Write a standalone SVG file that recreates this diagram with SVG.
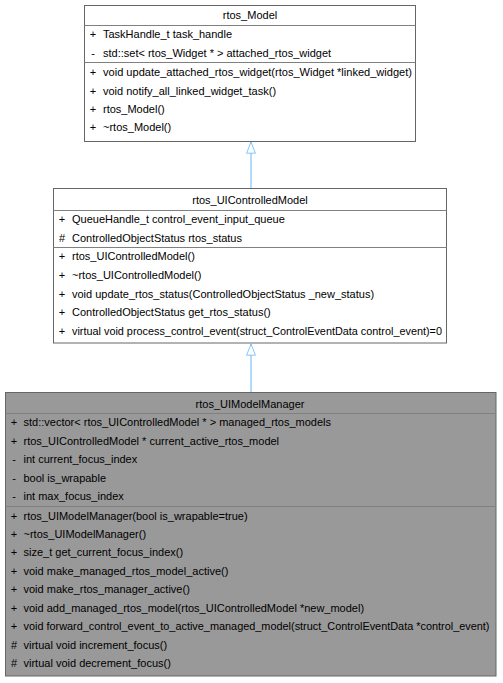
<svg xmlns="http://www.w3.org/2000/svg" width="503" height="683" viewBox="0 0 503 683">
<style>
text{font-family:"Liberation Sans",Arial,sans-serif;font-size:11px;fill:#000}
.t{text-anchor:middle}
.s{text-anchor:middle}
.box{fill:#fff;stroke:#666;stroke-width:1}
.cur{fill:#999;stroke:#666;stroke-width:1}
.sep{stroke:#808080;stroke-width:1}
.edge{fill:none;stroke:#63b8ff;stroke-width:1}
</style>
<defs>
<marker id="inh" markerUnits="userSpaceOnUse" markerWidth="12" markerHeight="15" viewBox="0 0 15 12" refX="14.5" refY="6" orient="auto">
<path d="M0.5,0.5 L14.5,6 L0.5,11.5 Z" fill="#fff" stroke="#63b8ff" stroke-width="1"/>
</marker>
</defs>
<g id="edges">
<path class="edge" d="M251,188 L251,142" marker-end="url(#inh)"/>
<path class="edge" d="M251,392 L251,344" marker-end="url(#inh)"/>
</g>
<g id="rtos_Model">
<rect class="box" x="84.5" y="5.5" width="331" height="136"/>
<line class="sep" x1="84.5" y1="25.5" x2="415.5" y2="25.5"/>
<line class="sep" x1="84.5" y1="62.5" x2="415.5" y2="62.5"/>
<text class="t" x="250" y="19">rtos_Model</text>
<text class="s" x="93" y="38">+</text><text x="103" y="38">TaskHandle_t task_handle</text>
<text class="s" x="93" y="56.5">-</text><text x="103" y="56.5">std::set&lt; rtos_Widget * &gt; attached_rtos_widget</text>
<text class="s" x="93" y="76.4">+</text><text x="103" y="76.4" textLength="309" lengthAdjust="spacingAndGlyphs">void update_attached_rtos_widget(rtos_Widget *linked_widget)</text>
<text class="s" x="93" y="94.6">+</text><text x="103" y="94.6">void notify_all_linked_widget_task()</text>
<text class="s" x="93" y="113.2">+</text><text x="103" y="113.2">rtos_Model()</text>
<text class="s" x="93" y="131.4">+</text><text x="103" y="131.4">~rtos_Model()</text>
</g>
<g id="rtos_UIControlledModel">
<rect class="box" x="53.5" y="188.5" width="393" height="154.5"/>
<line class="sep" x1="53.5" y1="210.5" x2="446.5" y2="210.5"/>
<line class="sep" x1="53.5" y1="247.5" x2="446.5" y2="247.5"/>
<text class="t" x="250" y="204">rtos_UIControlledModel</text>
<text class="s" x="62" y="223">+</text><text x="72" y="223">QueueHandle_t control_event_input_queue</text>
<text class="s" x="62" y="241.8">#</text><text x="72" y="241.8">ControlledObjectStatus rtos_status</text>
<text class="s" x="62" y="260.4">+</text><text x="72" y="260.4">rtos_UIControlledModel()</text>
<text class="s" x="62" y="278.8">+</text><text x="72" y="278.8">~rtos_UIControlledModel()</text>
<text class="s" x="62" y="297.6">+</text><text x="72" y="297.6">void update_rtos_status(ControlledObjectStatus _new_status)</text>
<text class="s" x="62" y="316.3">+</text><text x="72" y="316.3">ControlledObjectStatus get_rtos_status()</text>
<text class="s" x="62" y="335.2">+</text><text x="72" y="335.2" textLength="370" lengthAdjust="spacingAndGlyphs">virtual void process_control_event(struct_ControlEventData control_event)=0</text>
</g>
<g id="rtos_UIModelManager">
<rect class="cur" x="5.5" y="392.5" width="490.5" height="283.5"/>
<line class="sep" x1="5.5" y1="413.5" x2="496" y2="413.5"/>
<line class="sep" x1="5.5" y1="506.5" x2="496" y2="506.5"/>
<text class="t" x="250" y="407.5">rtos_UIModelManager</text>
<text class="s" x="14" y="426">+</text><text x="23.5" y="426">std::vector&lt; rtos_UIControlledModel * &gt; managed_rtos_models</text>
<text class="s" x="14" y="444.5">+</text><text x="23.5" y="444.5">rtos_UIControlledModel * current_active_rtos_model</text>
<text class="s" x="14" y="463">-</text><text x="23.5" y="463">int current_focus_index</text>
<text class="s" x="14" y="481.8">-</text><text x="23.5" y="481.8">bool is_wrapable</text>
<text class="s" x="14" y="500.3">-</text><text x="23.5" y="500.3">int max_focus_index</text>
<text class="s" x="14" y="519.7">+</text><text x="23.5" y="519.7">rtos_UIModelManager(bool is_wrapable=true)</text>
<text class="s" x="14" y="537.8">+</text><text x="23.5" y="537.8">~rtos_UIModelManager()</text>
<text class="s" x="14" y="556.2">+</text><text x="23.5" y="556.2">size_t get_current_focus_index()</text>
<text class="s" x="14" y="574.6">+</text><text x="23.5" y="574.6">void make_managed_rtos_model_active()</text>
<text class="s" x="14" y="593.1">+</text><text x="23.5" y="593.1">void make_rtos_manager_active()</text>
<text class="s" x="14" y="611.7">+</text><text x="23.5" y="611.7">void add_managed_rtos_model(rtos_UIControlledModel *new_model)</text>
<text class="s" x="14" y="630.3">+</text><text x="23.5" y="630.3" textLength="466" lengthAdjust="spacingAndGlyphs">void forward_control_event_to_active_managed_model(struct_ControlEventData *control_event)</text>
<text class="s" x="14" y="649">#</text><text x="23.5" y="649">virtual void increment_focus()</text>
<text class="s" x="14" y="667">#</text><text x="23.5" y="667">virtual void decrement_focus()</text>
</g>
</svg>
